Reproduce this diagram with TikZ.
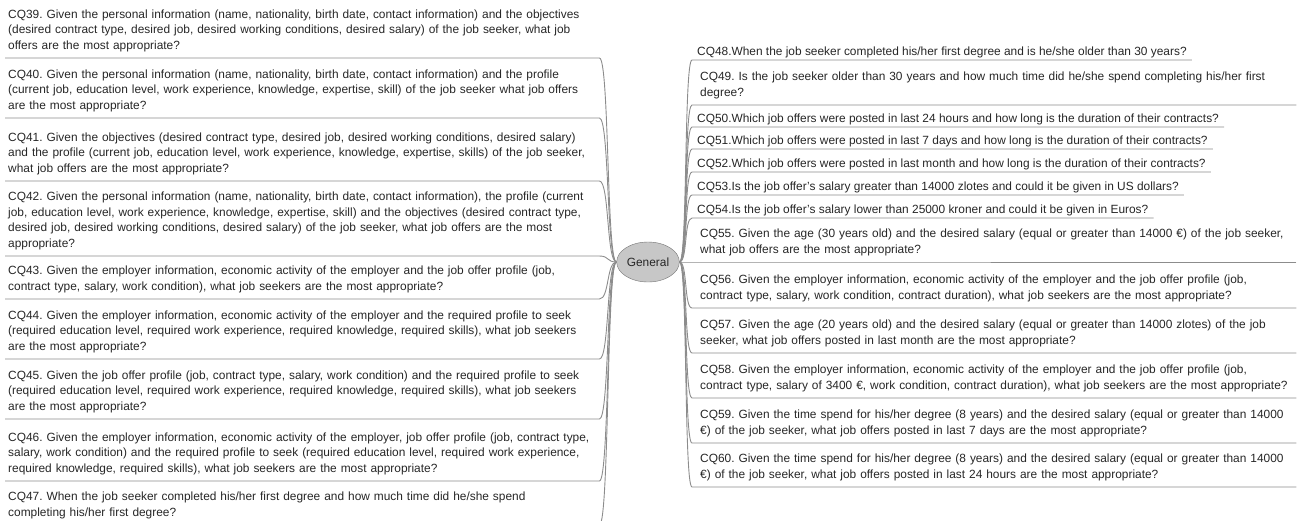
\documentclass[tikz,border=0pt]{standalone}
\usepackage{fontspec}
\setmainfont{Liberation Sans}
\usetikzlibrary{shapes.geometric, calc}
\frenchspacing
\hyphenpenalty=10000
\exhyphenpenalty=10000
\tikzset{
    every node/.style={font=\fontsize{11.9}{15.5}\selectfont, text=black!85},
    question/.style={align=left, inner xsep=3pt, inner ysep=4pt,
      anchor=south west, execute at end node=\strut},
    wide left/.style={question, text width=588pt},
    wide right/.style={question, text width=588pt, inner xsep=8pt},
    short right/.style={question, inner xsep=5pt, inner ysep=0pt},
    main node/.style={ellipse, draw=black!55, fill=black!22,
      minimum width=60pt, minimum height=40pt, inner sep=1pt},
    branch/.style={draw=black!45, line width=0.9pt}
}

\begin{document}
\begin{tikzpicture}[x=1pt, y=-1pt]
  \useasboundingbox (0,0) rectangle (1298,520);
  \clip (0,0) rectangle (1298,520);

  \node[main node] (general) at (648,262) {General};

  % left side
  \node[wide left] (q39) at (5,58) {CQ39. Given the personal information (name, nationality, birth date, contact information) and the objectives\\(desired contract type, desired job, desired working conditions, desired salary) of the job seeker, what job\\offers are the most appropriate?};
  \node[wide left] (q40) at (5,118) {CQ40. Given the personal information (name, nationality, birth date, contact information) and the profile\\(current job, education level, work experience, knowledge, expertise, skill) of the job seeker what job offers\\are the most appropriate?};
  \node[wide left] (q41) at (5,181) {CQ41. Given the objectives (desired contract type, desired job, desired working conditions, desired salary)\\and the profile (current job, education level, work experience, knowledge, expertise, skills) of the job seeker,\\what job offers are the most appropriate?};
  \node[wide left] (q42) at (5,256) {CQ42. Given the personal information (name, nationality, birth date, contact information), the profile (current\\job, education level, work experience, knowledge, expertise, skill) and the objectives (desired contract type,\\desired job, desired working conditions, desired salary) of the job seeker, what job offers are the most\\appropriate?};
  \node[wide left] (q43) at (5,299) {CQ43. Given the employer information, economic activity of the employer and the job offer profile (job,\\contract type, salary, work condition), what job seekers are the most appropriate?};
  \node[wide left] (q44) at (5,359) {CQ44. Given the employer information, economic activity of the employer and the required profile to seek\\(required education level, required work experience, required knowledge, required skills), what job seekers\\are the most appropriate?};
  \node[wide left] (q45) at (5,419) {CQ45. Given the job offer profile (job, contract type, salary, work condition) and the required profile to seek\\(required education level, required work experience, required knowledge, required skills), what job seekers\\are the most appropriate?};
  \node[wide left] (q46) at (5,481) {CQ46. Given the employer information, economic activity of the employer, job offer profile (job, contract type,\\salary, work condition) and the required profile to seek (required education level, required work experience,\\required knowledge, required skills), what job seekers are the most appropriate?};
  \node[wide left] (q47) at (5,525) {CQ47. When the job seeker completed his/her first degree and how much time did he/she spend\\completing his/her first degree?};

  % right side
  \node[short right] (q48) at (692,60) {CQ48.When the job seeker completed his/her first degree and is he/she older than 30 years?};
  \node[wide right] (q49) at (692,105) {CQ49. Is the job seeker older than 30 years and how much time did he/she spend completing his/her first\\degree?};
  \node[short right] (q50) at (692,127) {CQ50.Which job offers were posted in last 24 hours and how long is the duration of their contracts?};
  \node[short right] (q51) at (692,149) {CQ51.Which job offers were posted in last 7 days and how long is the duration of their contracts?};
  \node[short right] (q52) at (692,172) {CQ52.Which job offers were posted in last month and how long is the duration of their contracts?};
  \node[short right] (q53) at (692,195) {CQ53.Is the job offer’s salary greater than 14000 zlotes and could it be given in US dollars?};
  \node[short right] (q54) at (692,218) {CQ54.Is the job offer’s salary lower than 25000 kroner and could it be given in Euros?};
  \node[wide right] (q55) at (692,262) {CQ55. Given the age (30 years old) and the desired salary (equal or greater than 14000 €) of the job seeker,\\what job offers are the most appropriate?};
  \node[wide right] (q56) at (692,308) {CQ56. Given the employer information, economic activity of the employer and the job offer profile (job,\\contract type, salary, work condition, contract duration), what job seekers are the most appropriate?};
  \node[wide right] (q57) at (692,353) {CQ57. Given the age (20 years old) and the desired salary (equal or greater than 14000 zlotes) of the job\\seeker, what job offers posted in last month are the most appropriate?};
  \node[wide right] (q58) at (692,398) {CQ58. Given the employer information, economic activity of the employer and the job offer profile (job,\\contract type, salary of 3400 €, work condition, contract duration), what job seekers are the most appropriate?};
  \node[wide right] (q59) at (692,443) {CQ59. Given the time spend for his/her degree (8 years) and the desired salary (equal or greater than 14000\\€) of the job seeker, what job offers posted in last 7 days are the most appropriate?};
  \node[wide right] (q60) at (692,487) {CQ60. Given the time spend for his/her degree (8 years) and the desired salary (equal or greater than 14000\\€) of the job seeker, what job offers posted in last 24 hours are the most appropriate?};

  % branches
  \foreach \i in {39,...,47}
    \draw[branch] (q\i.south west) -- (q\i.south east)
      .. controls +(10,0) and +(-10,0) .. (general.west);
  \foreach \i in {48,...,60}
    \draw[branch] (q\i.south east) -- (q\i.south west)
      .. controls +(-8,0) and +(8,0) .. (general.east);
\end{tikzpicture}
\end{document}
